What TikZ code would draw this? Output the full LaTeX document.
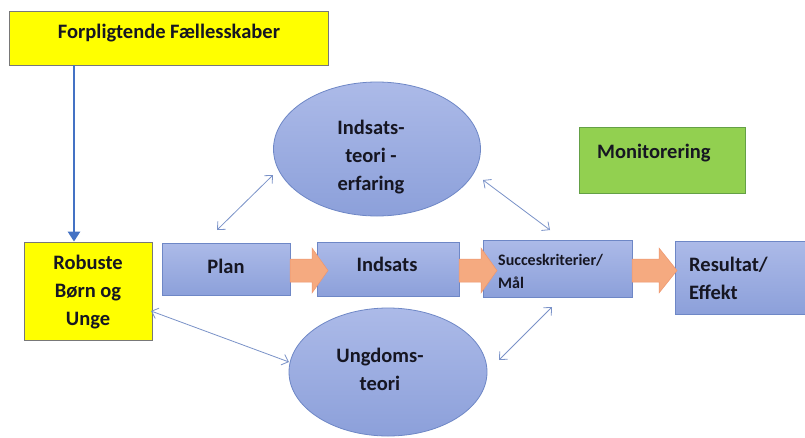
\documentclass[tikz,border=0pt]{standalone}
\usepackage{fontspec}
\setmainfont{Carlito}
\usetikzlibrary{shapes.geometric,arrows.meta}
\definecolor{txtc}{RGB}{22,22,34}
\definecolor{bluetop}{RGB}{172,186,232}
\definecolor{bluebot}{RGB}{140,160,218}
\definecolor{blueedge}{RGB}{110,135,198}
\definecolor{yel}{RGB}{255,255,0}
\definecolor{yeledge}{RGB}{120,120,120}
\definecolor{grn}{RGB}{146,208,80}
\definecolor{grnedge}{RGB}{100,160,70}
\definecolor{orf}{RGB}{245,170,128}
\definecolor{ord}{RGB}{238,150,110}
\definecolor{linkc}{RGB}{122,146,200}
\definecolor{mainblue}{RGB}{68,114,196}
\tikzset{
  txt/.style={font=\bfseries\fontsize{20.5}{28}\selectfont, text=txtc, align=center, inner sep=0},
  smalltxt/.style={font=\bfseries\fontsize{16}{23}\selectfont, text=txtc, align=left, inner sep=0},
  bluebox/.style={draw=blueedge, line width=0.8pt, top color=bluetop, bottom color=bluebot, inner sep=0},
  yelbox/.style={draw=yeledge, line width=0.8pt, fill=yel, inner sep=0},
  ell/.style={ellipse, draw=blueedge, line width=0.8pt, top color=bluetop, bottom color=bluebot, inner sep=0},
  dbl/.style={{Straight Barb[length=6pt,width=11pt]}-{Straight Barb[length=6pt,width=11pt]}, draw=linkc, line width=0.8pt},
  blockarrow/.style={fill=orf, draw=ord, line width=0.5pt}
}
\begin{document}
\begin{tikzpicture}[x=1pt,y=-1pt]
\useasboundingbox[fill=white] (0,0) rectangle (805,437);

% boxes
\node[yelbox, minimum width=319, minimum height=54] (forp) at (168.5,38) {};
\node[txt] (forpt) at (169,33) {Forpligtende Fællesskaber};

\node[yelbox, minimum width=128, minimum height=98] (rob) at (88,291) {};
\node[txt] (robt) at (88,292) {Robuste\\Børn og\\Unge};

\node[bluebox, minimum width=128, minimum height=52] (plan) at (226,269) {};
\node[txt] (plant) at (226,266) {Plan};

\node[bluebox, minimum width=142, minimum height=54] (inds) at (388,269) {};
\node[txt] (indst) at (387,264) {Indsats};

\node[bluebox, minimum width=149, minimum height=57] (succ) at (557.5,268.5) {};
\node[smalltxt, anchor=west] (succt) at (498,271) {Succeskriterier/\\Mål};

\node[bluebox, minimum width=130, minimum height=73] (res) at (740,277.5) {};
\node[txt, align=left, anchor=west] (rest) at (689,278) {Resultat/\\Effekt};

\node[draw=grnedge, line width=0.8pt, fill=grn, minimum width=166, minimum height=66, inner sep=0] (mon) at (662,160) {};
\node[txt, anchor=west] (mont) at (597,153) {Monitorering};

% ellipses
\node[ell, minimum width=207, minimum height=134] (e1) at (377,149) {};
\node[txt] (e1t) at (371,157) {Indsats-\\teori -\\erfaring};

\node[ell, minimum width=198, minimum height=128] (e2) at (388,372) {};
\node[txt] (e2t) at (380,369) {Ungdoms-\\teori};

% orange block arrows
\draw[blockarrow] (290,259) -- (312,259) -- (312,248) -- (328,270.5) -- (312,293) -- (312,282) -- (290,282) -- cycle;
\draw[blockarrow] (459,259) -- (481,259) -- (481,248) -- (497,270.5) -- (481,293) -- (481,282) -- (459,282) -- cycle;
\draw[blockarrow] (632,259) -- (659,259) -- (659,248) -- (677,270.5) -- (659,293) -- (659,282) -- (632,282) -- cycle;

% main blue arrow
\coordinate (fl) at (74,65);
\draw[mainblue, line width=2.6pt, -{Triangle[length=10pt,width=12pt]}] (fl) -- (fl |- rob.north);

% thin double arrows
\coordinate (a1s) at (217,230);
\coordinate (a1e) at (273,175);
\coordinate (a2s) at (483,180);
\coordinate (a2e) at (550,230);
\coordinate (a3s) at (151,311);
\coordinate (a3e) at (289,362);
\coordinate (a4s) at (499,360);
\coordinate (a4e) at (552,307);
\draw[dbl] (a1s) -- (a1e);
\draw[dbl] (a2s) -- (a2e);
\draw[dbl] (a3s) -- (a3e);
\draw[dbl] (a4s) -- (a4e);
\end{tikzpicture}
\end{document}
